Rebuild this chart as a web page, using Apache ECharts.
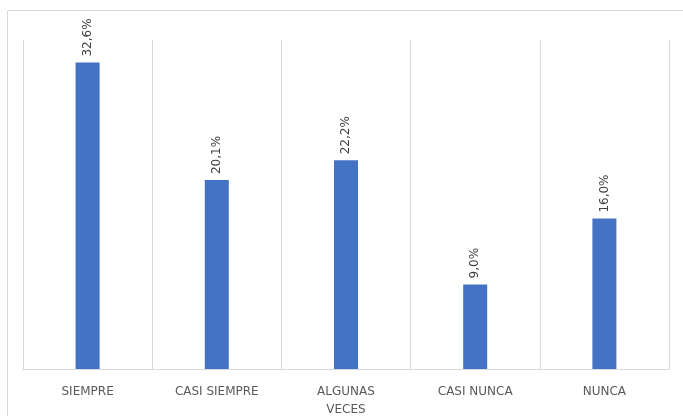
<!DOCTYPE html>
<html>
<head>
<meta charset="utf-8">
<script src="https://cdn.jsdelivr.net/npm/echarts@6/dist/echarts.min.js"></script>
<style>
html, body { margin: 0; padding: 0; background: #fff; }
#main { width: 683px; height: 416px; }
</style>
</head>
<body>
<div id="main"></div>
<script>
// categorías y porcentajes
var categorias = ['SIEMPRE', 'CASI SIEMPRE', 'ALGUNAS\nVECES', 'CASI NUNCA', 'NUNCA'];
var porcentajes = [32.6, 20.1, 22.2, 9.0, 16.0];

var myChart = echarts.init(document.getElementById('main'));

myChart.setOption({
	backgroundColor: '#fff',
	animation: false,
	graphic: [
		{
			type: 'rect',
			left: 5,
			top: 8,
			shape: { width: 690, height: 420 },
			style: { fill: 'none', stroke: '#d9d9d9', lineWidth: 1 },
			silent: true
		}
	],
	grid: {
		left: 23,
		right: 14,
		top: 40,
		bottom: 47,
		outerBoundsMode: 'none'
	},
	xAxis: {
		type: 'category',
		data: categorias,
		axisLine: { lineStyle: { color: '#d9d9d9' } },
		axisTick: { show: false },
		splitLine: {
			show: true,
			lineStyle: { color: '#d9d9d9', width: 1 }
		},
		axisLabel: {
			color: '#595959',
			fontSize: 12,
			fontFamily: 'DejaVu Sans',
			margin: 14,
			lineHeight: 18,
			interval: 0
		}
	},
	yAxis: {
		type: 'value',
		min: 0,
		max: 35,
		show: false,
		splitLine: { show: false }
	},
	series: [
		{
			type: 'bar',
			data: porcentajes,
			barWidth: 24,
			itemStyle: { color: '#4472c4' },
			label: {
				show: true,
				position: 'top',
				rotate: 90,
				align: 'left',
				verticalAlign: 'middle',
				distance: 6,
				color: '#404040',
				fontSize: 12,
				fontFamily: 'DejaVu Sans',
				formatter: function (p) {
					return p.value.toFixed(1).replace('.', ',') + '%';
				}
			}
		}
	]
});
</script>
</body>
</html>
